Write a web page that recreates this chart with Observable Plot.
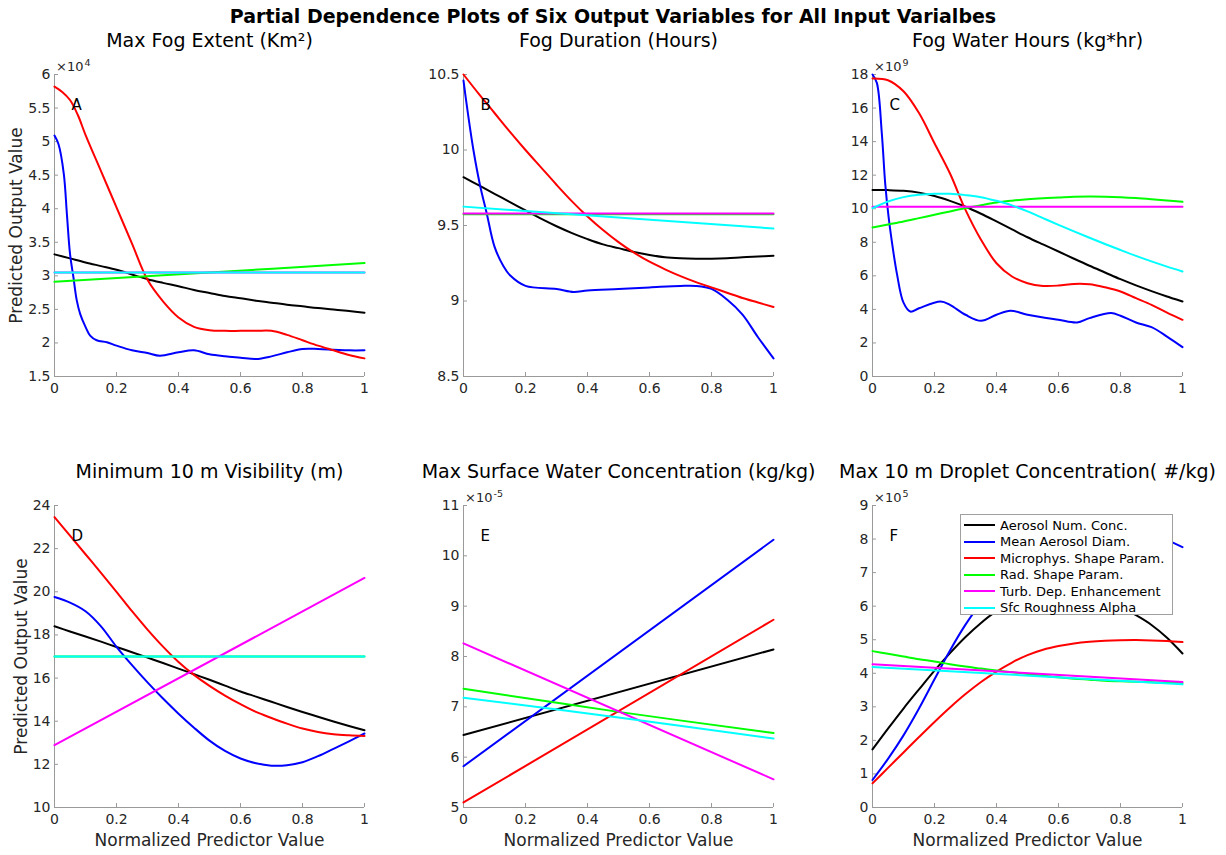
<!DOCTYPE html>
<html>
<head>
<meta charset="utf-8">
<script src="https://cdn.jsdelivr.net/npm/d3@7"></script>
<script src="https://cdn.jsdelivr.net/npm/@observablehq/plot@0.6"></script>
<style>
  html, body { margin: 0; padding: 0; background: #fff; }
  #wrap { position: relative; width: 1226px; height: 855px; overflow: hidden; font-family: "DejaVu Sans", sans-serif; }
  #title { position: absolute; left: 0; top: 7px; width: 1226px; text-align: center; font-weight: bold; font-size: 19px; line-height: 19px; color: #000; }
  .panel { position: absolute; }
  #legend { position: absolute; left: 960px; top: 514px; width: 211px; height: 99px; background: #fff; border: 1px solid #a0a0a0; font-size: 13px; color: #000; }
  .lrow { position: absolute; left: 3px; height: 16px; display: flex; align-items: center; }
  .lsw { width: 31px; height: 2px; margin-right: 5px; }
</style>
</head>
<body>
<div id="wrap">
  <div id="title">Partial Dependence Plots of Six Output Variables for All Input Varialbes</div>
</div>
<script>
// ---------- shared ----------
const seriesNames = ["Aerosol Num. Conc.", "Mean Aerosol Diam.", "Microphys. Shape Param.", "Rad. Shape Param.", "Turb. Dep. Enhancement", "Sfc Roughness Alpha"];
const seriesColors = ["#000000", "#0000ff", "#ff0000", "#00ff00", "#ff00ff", "#00ffff"];
const xGrid = [0,0.05,0.1,0.15,0.2,0.25,0.3,0.35,0.4,0.45,0.5,0.55,0.6,0.65,0.7,0.75,0.8,0.85,0.9,0.95,1];
const xEnds = [0, 1];
const xThree = [0, 0.5, 1];
const xTicks = [0, 0.2, 0.4, 0.6, 0.8, 1];

// ---------- Panel A: Max Fog Extent (x10^4 Km^2) ----------
const aBlack = [3.32,3.26,3.20,3.145,3.09,3.02,2.95,2.895,2.845,2.79,2.745,2.70,2.665,2.63,2.60,2.57,2.545,2.52,2.50,2.475,2.45];
const aBlueX = [0,0.013,0.03,0.04,0.05,0.061,0.072,0.083,0.1,0.115,0.136,0.169,0.2,0.25,0.3,0.34,0.4,0.45,0.5,0.55,0.6,0.65,0.7,0.75,0.8,0.85,0.9,0.95,1];
const aBlue = [5.09,4.96,4.52,3.92,3.33,2.98,2.63,2.43,2.24,2.11,2.04,2.01,1.96,1.89,1.85,1.81,1.86,1.89,1.83,1.80,1.78,1.76,1.80,1.86,1.91,1.91,1.90,1.89,1.89];
const aRedX = [0,0.025,0.05,0.075,0.1,0.15,0.2,0.25,0.3,0.35,0.4,0.45,0.5,0.55,0.6,0.65,0.7,0.75,0.8,0.85,0.9,0.95,1];
const aRed = [5.82,5.74,5.62,5.40,5.10,4.56,4.02,3.48,2.94,2.62,2.38,2.24,2.19,2.18,2.18,2.18,2.18,2.12,2.04,1.96,1.89,1.82,1.77];
const aGreen = [2.91,3.05,3.19];
const aMagenta = [3.05,3.05];
const aCyan = [3.05,3.05];
const aTicks = [1.5,2,2.5,3,3.5,4,4.5,5,5.5,6];

// ---------- Panel B: Fog Duration (Hours) ----------
const bBlack = [9.82,9.765,9.71,9.655,9.60,9.545,9.495,9.45,9.41,9.375,9.35,9.325,9.305,9.29,9.283,9.28,9.28,9.283,9.29,9.295,9.30];
const bBlueX = [0,0.011,0.032,0.054,0.075,0.1,0.129,0.15,0.2,0.3,0.355,0.4,0.5,0.6,0.7,0.75,0.8,0.85,0.9,0.95,1];
const bBlue = [10.46,10.29,10.0,9.76,9.58,9.36,9.23,9.17,9.10,9.08,9.06,9.07,9.08,9.09,9.10,9.10,9.08,9.01,8.91,8.76,8.62];
const bRed = [10.50,10.37,10.245,10.12,10.00,9.885,9.77,9.66,9.56,9.47,9.39,9.32,9.26,9.21,9.165,9.125,9.09,9.055,9.02,8.99,8.96];
const bGreen = [9.574,9.574];
const bMagenta = [9.58,9.58];
const bCyan = [9.625,9.48];
const bTicks = [8.5,9,9.5,10,10.5];

// ---------- Panel C: Fog Water Hours (x10^9 kg*hr) ----------
const cBlack = [11.12,11.11,11.07,10.96,10.76,10.47,10.12,9.70,9.24,8.77,8.30,7.87,7.45,7.02,6.60,6.20,5.80,5.43,5.09,4.77,4.47];
const cBlueX = [0,0.014,0.03,0.041,0.052,0.062,0.079,0.1,0.122,0.15,0.22,0.25,0.3,0.35,0.4,0.445,0.5,0.6,0.66,0.7,0.77,0.8,0.85,0.9,0.95,1];
const cBlue = [18.0,17.5,14.5,11.5,9.5,8.1,6.1,4.4,3.87,4.07,4.47,4.27,3.68,3.32,3.68,3.92,3.68,3.38,3.22,3.48,3.78,3.62,3.22,2.94,2.38,1.75];
const cRed = [17.76,17.66,17.0,15.7,13.9,12.1,9.93,8.15,6.75,5.96,5.56,5.40,5.42,5.52,5.50,5.32,5.07,4.67,4.27,3.81,3.38];
const cGreen = [8.88,9.06,9.24,9.44,9.64,9.84,10.04,10.21,10.37,10.48,10.57,10.63,10.67,10.71,10.73,10.72,10.69,10.64,10.57,10.49,10.41];
const cMagenta = [10.12,10.12];
const cCyan = [10.03,10.43,10.69,10.83,10.89,10.89,10.81,10.69,10.47,10.20,9.84,9.44,9.04,8.65,8.27,7.90,7.54,7.19,6.86,6.55,6.26];
const cTicks = [0,2,4,6,8,10,12,14,16,18];

// ---------- Panel D: Minimum 10 m Visibility (m) ----------
const dBlack = [18.40,18.16,17.93,17.69,17.44,17.20,16.95,16.70,16.44,16.18,15.92,15.65,15.38,15.14,14.90,14.66,14.43,14.21,13.99,13.78,13.58];
const dBlue = [19.76,19.50,19.10,18.40,17.45,16.60,15.80,15.05,14.35,13.70,13.10,12.62,12.27,12.05,11.94,11.96,12.10,12.38,12.72,13.07,13.43];
const dRed = [23.46,22.60,21.74,20.88,20.00,19.10,18.25,17.46,16.75,16.15,15.64,15.19,14.79,14.43,14.15,13.89,13.66,13.50,13.40,13.35,13.32];
const dGreen = [17.0,17.0];
const dMagenta = [12.89,20.64];
const dCyan = [17.0,17.0];
const dTicks = [10,12,14,16,18,20,22,24];

// ---------- Panel E: Max Surface Water Concentration (x10^-5 kg/kg) ----------
const eBlack = [6.44,8.14];
const eBlue = [5.82,10.32];
const eRed = [5.10,8.73];
const eGreen = [7.36,6.90,6.48];
const eMagenta = [8.26,5.56];
const eCyan = [7.18,6.79,6.37];
const eTicks = [5,6,7,8,9,10,11];

// ---------- Panel F: Max 10 m Droplet Concentration (x10^5 #/kg) ----------
const fBlack = [1.73,2.35,2.95,3.52,4.08,4.60,5.08,5.50,5.85,6.10,6.25,6.33,6.36,6.34,6.27,6.15,5.97,5.73,5.44,5.06,4.59];
const fBlue = [0.82,1.45,2.15,2.95,3.82,4.68,5.45,6.10,6.62,7.05,7.40,7.70,7.90,8.07,8.20,8.27,8.30,8.25,8.15,7.97,7.76];
const fRed = [0.72,1.18,1.64,2.10,2.55,2.98,3.38,3.74,4.05,4.32,4.54,4.70,4.81,4.89,4.94,4.97,4.985,4.99,4.98,4.96,4.93];
const fGreen = [4.66,4.58,4.50,4.42,4.35,4.27,4.20,4.14,4.08,4.03,3.98,3.93,3.88,3.84,3.81,3.78,3.76,3.745,3.73,3.72,3.71];
const fMagenta = [4.27,3.74];
const fCyan = [4.19,3.67];
const fTicks = [0,1,2,3,4,5,6,7,8,9];

// ---------- panel configs ----------
const panels = [
  {id:"A", title:"Max Fog Extent (Km²)", expPow:"4", ticks:aTicks, ylabel:true, xlabel:false, col:0, row:0, ylabDx:-32.3,
   series:[[xGrid,aBlack],[aBlueX,aBlue],[aRedX,aRed],[xThree,aGreen],[xEnds,aMagenta],[xEnds,aCyan]]},
  {id:"B", title:"Fog Duration (Hours)", expPow:null, ticks:bTicks, ylabel:false, xlabel:false, col:1, row:0,
   series:[[xGrid,bBlack],[bBlueX,bBlue],[xGrid,bRed],[xEnds,bGreen],[xEnds,bMagenta],[xEnds,bCyan]]},
  {id:"C", title:"Fog Water Hours (kg*hr)", expPow:"9", ticks:cTicks, ylabel:false, xlabel:false, col:2, row:0,
   series:[[xGrid,cBlack],[cBlueX,cBlue],[xGrid,cRed],[xGrid,cGreen],[xEnds,cMagenta],[xGrid,cCyan]]},
  {id:"D", title:"Minimum 10 m Visibility (m)", expPow:null, ticks:dTicks, ylabel:true, xlabel:true, col:0, row:1, ylabDx:-28,
   series:[[xGrid,dBlack],[xGrid,dBlue],[xGrid,dRed],[xEnds,dGreen],[xEnds,dMagenta],[xEnds,dCyan]]},
  {id:"E", title:"Max Surface Water Concentration (kg/kg)", expPow:"-5", ticks:eTicks, ylabel:false, xlabel:true, col:1, row:1,
   series:[[xEnds,eBlack],[xEnds,eBlue],[xEnds,eRed],[xThree,eGreen],[xEnds,eMagenta],[xThree,eCyan]]},
  {id:"F", title:"Max 10 m Droplet Concentration( #/kg)", expPow:"5", ticks:fTicks, ylabel:false, xlabel:true, col:2, row:1,
   series:[[xGrid,fBlack],[xGrid,fBlue],[xGrid,fRed],[xGrid,fGreen],[xEnds,fMagenta],[xEnds,fCyan]]}
];

const fmt = d3.format("~g");
const axisGrey = "#9a9a9a";
const textDark = "#262626";
const wrap = document.getElementById("wrap");

for (const p of panels) {
  const yDomain = [p.ticks[0], p.ticks[p.ticks.length - 1]];
  const marks = [
    Plot.ruleX([0], {stroke: axisGrey, strokeWidth: 1}),
    Plot.ruleY([yDomain[0]], {stroke: axisGrey, strokeWidth: 1}),
    Plot.axisX({ticks: xTicks, tickSize: -4, tickPadding: 10.5, tickFormat: () => "", color: axisGrey, label: null}),
    Plot.axisY({ticks: p.ticks, tickSize: -4, tickPadding: 8, tickFormat: () => "", color: axisGrey, label: null}),
    Plot.axisX({ticks: xTicks, tickSize: 0, tickPadding: 6.5, tickFormat: fmt, color: textDark, fontSize: 14, label: null}),
    Plot.axisY({ticks: p.ticks, tickSize: 0, tickPadding: 4, tickFormat: fmt, color: textDark, fontSize: 14, label: null}),
  ];
  p.series.forEach(([xs, ys], i) => {
    const rows = xs.map((x, j) => ({x, y: ys[j]}));
    marks.push(Plot.line(rows, {x: "x", y: "y", stroke: seriesColors[i], strokeWidth: 2, curve: "catmull-rom"}));
  });
  marks.push(Plot.text([p.title], {frameAnchor: "top", textAnchor: "middle", lineAnchor: "bottom", dy: -28, fontSize: 19, fill: "#000"}));
  marks.push(Plot.text([p.id], {frameAnchor: "top-left", textAnchor: "start", lineAnchor: "bottom", dx: 17, dy: 35.5, fontSize: 15, fill: "#000"}));
  if (p.expPow) {
    marks.push(Plot.text(["×10"], {frameAnchor: "top-left", textAnchor: "start", lineAnchor: "bottom", dx: 1.5, dy: -3.5, fontSize: 13, fill: textDark}));
    marks.push(Plot.text([p.expPow], {frameAnchor: "top-left", textAnchor: "start", lineAnchor: "bottom", dx: 30, dy: -8.5, fontSize: 9.5, fill: textDark}));
  }
  if (p.ylabel) marks.push(Plot.text(["Predicted Output Value"], {frameAnchor: "left", textAnchor: "middle", rotate: -90, lineAnchor: "bottom", dx: p.ylabDx, fontSize: 17, fill: textDark}));
  if (p.xlabel) marks.push(Plot.text(["Normalized Predictor Value"], {frameAnchor: "bottom", textAnchor: "middle", lineAnchor: "bottom", dy: 38.7, fontSize: 17, fill: textDark}));

  const chart = Plot.plot({
    width: 400, height: 410,
    marginLeft: 54, marginRight: 36, marginTop: 60, marginBottom: 48,
    x: {domain: [0, 1], axis: null},
    y: {domain: yDomain, axis: null},
    style: {fontFamily: "DejaVu Sans", fontSize: "14px", background: "transparent", overflow: "visible", maxWidth: "none"},
    marks
  });
  const div = document.createElement("div");
  div.className = "panel";
  div.style.left = (p.col * 409) + "px";
  div.style.top = (p.row === 0 ? 14 : 445) + "px";
  div.appendChild(chart);
  wrap.appendChild(div);
}

// ---------- legend ----------
const legend = document.createElement("div");
legend.id = "legend";
seriesNames.forEach((name, i) => {
  const row = document.createElement("div");
  row.className = "lrow";
  row.style.top = (2 + i * 16.5) + "px";
  const sw = document.createElement("div");
  sw.className = "lsw";
  sw.style.background = seriesColors[i];
  const lab = document.createElement("span");
  lab.textContent = name;
  row.appendChild(sw);
  row.appendChild(lab);
  legend.appendChild(row);
});
wrap.appendChild(legend);
</script>
</body>
</html>
